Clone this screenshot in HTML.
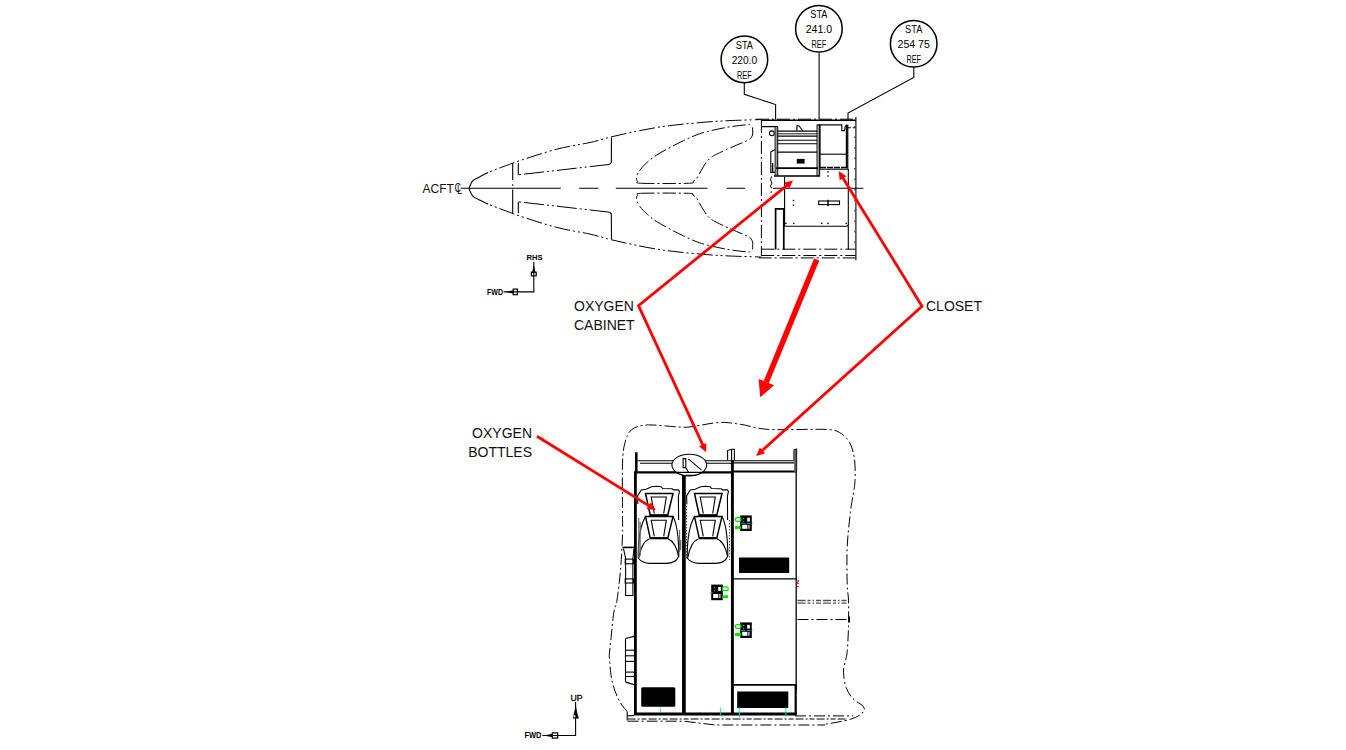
<!DOCTYPE html>
<html lang="en">
<head>
<meta charset="utf-8">
<title>Oxygen cabinet and closet location</title>
<style>
html,body{margin:0;padding:0;background:#fff;}
body{width:1346px;height:750px;overflow:hidden;position:relative;}
svg{position:absolute;left:0;top:0;display:block;}
svg .tn{stroke-width:1.1;}
svg .ph{stroke-width:1;stroke-dasharray:16 3 2 3 2 3;}
svg .cd{stroke-width:1;stroke-dasharray:13 3 2 3;}
svg .cd2{stroke-width:1;stroke-dasharray:11 3 2 3;}
svg .fk{fill:#000;stroke:none;}
svg text{stroke:none;}
svg text{font-family:"Liberation Sans",sans-serif;fill:#111;}
svg .bt{text-anchor:middle;fill:#000;}
svg .ax{font-weight:bold;fill:#000;}
svg .lb text{font-size:14px;fill:#111;}
svg .ac{font-size:12px;}
</style>
</head>
<body>
<svg width="1346" height="750" viewBox="0 0 1346 750" fill="none" stroke="#000" stroke-width="1.1">
<g id="topview">
<path d="M488.2 204.3C486.9 203.7 483 201.8 480.7 200.6C478.4 199.4 475.6 198 474.1 197.1C472.7 196.2 472.7 196 472 195C471.3 194 470.6 192.3 470.1 191.2C469.6 190.1 469.2 189.3 469.2 188.4C469.2 187.5 469.6 186.7 470.1 185.6C470.6 184.5 471.3 182.8 472 181.8C472.7 180.8 472.7 180.6 474.1 179.7C475.6 178.8 478.4 177.4 480.7 176.2C483 175 486.9 173.1 488.2 172.5" class="tn"/>
<path d="M488.2 172.5C490.1 171.7 495.9 169.4 499.9 167.9C503.9 166.4 509.1 164.5 512.3 163.3C515.5 162.1 511.8 163.2 519.2 160.8C526.6 158.5 544.9 152.2 556.7 149.2C568.5 146.1 581 144.5 590 142.5C599 140.5 603.6 138.8 610.8 137C618 135.2 625.4 133.6 633 132C640.6 130.4 648.9 128.8 656.7 127.5C664.5 126.2 671.7 125.4 680 124.5C688.3 123.6 698.4 122.7 706.7 122C715 121.3 721.7 121 730 120.6C738.3 120.2 751.5 119.9 756.7 119.7C762 119.5 760.7 119.6 761.5 119.6" class="ph" stroke-dashoffset="17"/>
<path d="M488.2 204.1C490.1 204.9 495.9 207.2 499.9 208.7C503.9 210.2 509.1 212.1 512.3 213.3C515.5 214.5 511.8 213.5 519.2 215.8C526.6 218.2 544.9 224.4 556.7 227.4C568.5 230.5 581 232.1 590 234.1C599 236.1 603.6 237.9 610.8 239.6C618 241.4 625.4 243 633 244.6C640.6 246.2 648.9 247.9 656.7 249.1C664.5 250.4 671.7 251.2 680 252.1C688.3 253 698.4 254 706.7 254.6C715 255.3 721.7 255.6 730 256C738.3 256.4 751.5 256.7 756.7 256.9C762 257.1 760.7 257 761.5 257" class="ph" stroke-dashoffset="17"/>
<path d="M512.7 163.3V180M512.7 184.2V185.8M512.7 189.5V213.5" class="tn"/>
<path d="M611.5 137.5L611.3 162.6L609.5 164.4" class="tn"/>
<path d="M609.5 164.4L518.3 174.8" stroke-width="1" stroke-dasharray="20 3 2 3 2 3"/>
<path d="M518.3 174.8L518.3 163.3" class="tn"/>
<path d="M611.5 239.1L611.3 214L609.5 212.2" class="tn"/>
<path d="M609.5 212.2L518.3 201.8" stroke-width="1" stroke-dasharray="20 3 2 3 2 3"/>
<path d="M518.3 201.8L518.3 213.3" class="tn"/>
<path d="M641.7 183.3C650.2 183.6 679.8 183.6 688.3 183.3C696.8 183 691.6 182.3 693 181.5C694.4 180.7 695.3 180.2 696.7 178.3C698.1 176.4 699.8 172.8 701.5 170C703.2 167.2 705.1 163.8 706.7 161.7C708.3 159.6 709.3 158.8 711 157.5C712.7 156.2 713.4 155.9 716.7 154.2C720 152.5 726 149.7 731 147.5C736 145.3 743.5 142.3 746.7 140.8C750 139.3 749.5 139.5 750.5 138.5C751.5 137.5 752.1 136.2 752.5 135C752.9 133.8 752.7 132.3 752.7 131C752.7 129.7 752.7 128.3 752.3 127.3C751.9 126.3 751.4 125.6 750.5 125.2C749.6 124.8 750.8 124.3 746.7 124.7C742.6 125.1 732.7 126.3 726 127.5C719.3 128.7 711.9 130.4 706.7 131.7C701.5 133 698.9 134 695 135.5C691.1 137 687.5 138.8 683.3 140.8C679.1 142.8 674.4 145.1 670 147.5C665.6 149.9 660.5 152.6 656.7 155C653 157.4 650.3 159.5 647.5 162C644.7 164.5 641.7 167.9 640 170C638.3 172.1 637.9 173.2 637.3 174.5C636.7 175.8 636.5 176.9 636.5 178C636.5 179.1 636.6 180.4 637.5 181.3C638.4 182.2 633.2 183 641.7 183.3Z" class="cd"/>
<path d="M641.7 193.3C650.2 193 679.8 193 688.3 193.3C696.8 193.6 691.6 194.3 693 195.1C694.4 195.9 695.3 196.4 696.7 198.3C698.1 200.2 699.8 203.8 701.5 206.6C703.2 209.4 705.1 212.8 706.7 214.9C708.3 217 709.3 217.9 711 219.1C712.7 220.4 713.4 220.7 716.7 222.4C720 224.1 726 226.9 731 229.1C736 231.3 743.5 234.3 746.7 235.8C750 237.3 749.5 237.1 750.5 238.1C751.5 239.1 752.1 240.4 752.5 241.6C752.9 242.9 752.7 244.3 752.7 245.6C752.7 246.9 752.7 248.3 752.3 249.3C751.9 250.3 751.4 251 750.5 251.4C749.6 251.8 750.8 252.3 746.7 251.9C742.6 251.5 732.7 250.3 726 249.1C719.3 247.9 711.9 246.2 706.7 244.9C701.5 243.6 698.9 242.6 695 241.1C691.1 239.6 687.5 237.8 683.3 235.8C679.1 233.8 674.4 231.5 670 229.1C665.6 226.7 660.5 224 656.7 221.6C653 219.2 650.3 217.1 647.5 214.6C644.7 212.1 641.7 208.7 640 206.6C638.3 204.5 637.9 203.4 637.3 202.1C636.7 200.8 636.5 199.7 636.5 198.6C636.5 197.5 636.6 196.2 637.5 195.3C638.4 194.4 633.2 193.6 641.7 193.3Z" class="cd"/>
<path d="M460.8 188.3H560.8M579.2 188.3H598.3M615.8 188.3H707.5M726.7 188.3H745M773 188.3H863.4" class="tn"/>
<path d="M761 120.3L856 120.3" stroke-width="1.6"/>
<path d="M756 119.2L856 119.2" class="cd"/>
<path d="M761.4 120L761.4 256" class="cd"/>
<path d="M855.9 117L855.9 260.2" class="tn"/>
<path d="M854.8 126L854.8 250" stroke-width="0.8" stroke-dasharray="1.5 9"/>
<path d="M847.8 125L847.8 168.9" class="tn"/>
<path d="M762 126.6L777.6 126.6" stroke-width="1.3"/>
<path d="M847.8 127.8L855.6 127.8" stroke-dasharray="3 2"/>
<path d="M775.2 126.6V175.5M777.7 126.6V176" class="tn"/>
<path d="M776.4 127L776.4 175.5" stroke="#999" stroke-width="1.4"/>
<path d="M817.1 124.6V176.6M819.6 124.6V176.6" class="tn"/>
<path d="M818.4 125L818.4 176" stroke="#999" stroke-width="1.4"/>
<path d="M817.1 124.9L842 124.9" stroke-width="1.2"/>
<path d="M777.6 131.2L817.1 131.2" stroke-width="1.3"/>
<path d="M777.6 133.8L817.1 133.8" stroke-width="0.9"/>
<path d="M777.6 136.1L817.1 136.1" stroke-width="1.3"/>
<path d="M777.6 140.3L817.1 140.3" stroke-width="1.1"/>
<path d="M777.6 143.8L817.1 143.8" stroke-width="1.1"/>
<path d="M777.6 152.2L817.1 152.2" stroke-width="1.3"/>
<path d="M776 168.1L818 168.1" stroke-width="1.8"/>
<path d="M774 176L819.6 176" stroke-width="1.7"/>
<rect x="796.8" y="158.9" width="7.8" height="4.7" class="fk"/>
<circle cx="771.8" cy="133.3" r="2.4" class="tn"/>
<path d="M775 149.5L770.8 152V172.4H775" class="tn"/>
<path d="M772.6 163L772.6 172" stroke-width="1.4"/>
<path d="M796.9 130.7V125.7H799L802.6 130.7" class="tn"/>
<path d="M841.8 124.6V130.6H844.4L845.5 125.5M820 124.6V167" class="tn"/>
<path d="M846.7 124.5L846.7 168" stroke-width="1.8"/>
<path d="M820 154.2L846 154.2" class="tn"/>
<path d="M820 167.5L847 167.5" stroke-width="1.7" stroke-dasharray="6 1"/>
<path d="M819.5 169.2L848.3 169.2" class="tn"/>
<path d="M848.3 168.9L848.3 249.4" class="tn"/>
<rect x="827.3" y="171.2" width="1.4" height="1.4" class="fk"/>
<rect x="827.3" y="175.3" width="1.4" height="1.4" class="fk"/>
<rect x="792.8" y="199.8" width="1.4" height="1.4" class="fk"/>
<rect x="792.8" y="204.5" width="1.4" height="1.4" class="fk"/>
<rect x="785.2" y="222.7" width="1.4" height="1.4" class="fk"/>
<rect x="793" y="222.7" width="1.4" height="1.4" class="fk"/>
<rect x="821.1" y="222.7" width="1.4" height="1.4" class="fk"/>
<rect x="827.3" y="222.7" width="1.4" height="1.4" class="fk"/>
<rect x="845.5" y="222.7" width="1.4" height="1.4" class="fk"/>
<path d="M784.6 177V226.2H847L848.3 225" class="tn"/>
<rect x="818.7" y="201" width="20.8" height="3.6" class="tn"/>
<path d="M828 199.8L828 206.3" stroke-width="1.4"/>
<path d="M775.6 249.4V208.8H783.8V249.4" stroke-width="1.7"/>
<path d="M771.5 176.5L770.5 180L772 183L770.5 186L772 189L771 193" class="cd"/>
<path d="M761.3 249.2L855.5 249.2" class="cd"/>
<path d="M761.3 255.5L855.5 255.5" class="cd"/>
<path d="M758.7 257.9L855.5 257.9" class="cd"/>
</g>
<g id="balloons">
<circle cx="744.4" cy="59.4" r="23.3" stroke-width="1.5"/>
<text x="744.4" y="48.5" class="bt" font-size="10" textLength="17.2" lengthAdjust="spacingAndGlyphs">STA</text>
<text x="744.4" y="63.6" class="bt" font-size="11" textLength="25.4" lengthAdjust="spacingAndGlyphs">220.0</text>
<text x="744.4" y="78.5" class="bt" font-size="10" textLength="14.6" lengthAdjust="spacingAndGlyphs">REF</text>
<circle cx="818.9" cy="28.8" r="23.3" stroke-width="1.5"/>
<text x="818.9" y="17.9" class="bt" font-size="10" textLength="17.2" lengthAdjust="spacingAndGlyphs">STA</text>
<text x="818.9" y="33" class="bt" font-size="11" textLength="26.5" lengthAdjust="spacingAndGlyphs">241.0</text>
<text x="818.9" y="47.9" class="bt" font-size="10" textLength="14.6" lengthAdjust="spacingAndGlyphs">REF</text>
<circle cx="913.7" cy="43.7" r="23.3" stroke-width="1.5"/>
<text x="913.7" y="32.8" class="bt" font-size="10" textLength="17.2" lengthAdjust="spacingAndGlyphs">STA</text>
<text x="913.7" y="47.9" class="bt" font-size="11" textLength="32.4" lengthAdjust="spacingAndGlyphs">254 75</text>
<text x="913.7" y="62.8" class="bt" font-size="10" textLength="14.6" lengthAdjust="spacingAndGlyphs">REF</text>
<path d="M744.3 83V94.3L775.6 104.6V119.5" class="tn"/>
<path d="M819.1 52.5V119.5" class="tn"/>
<path d="M913.8 67V77.5L848 113V119.5" class="tn"/>
</g>
<g id="triads">
<path d="M533.8 261.7V291.9H503.6" class="tn"/>
<path d="M533.8 264.4L535.5 272.4H532.1Z" class="fk"/>
<rect x="531.4" y="272.2" width="4.8" height="3.7" stroke-width="1.2"/>
<path d="M505.6 291.9L513.4 290.2V293.6Z" class="fk"/>
<rect x="513.2" y="289.1" width="4.2" height="5.6" stroke-width="1.2"/>
<text x="526.6" y="259.9" class="ax" font-size="7.8" textLength="16" lengthAdjust="spacingAndGlyphs">RHS</text>
<text x="487" y="294.5" class="ax" font-size="8.2" textLength="16" lengthAdjust="spacingAndGlyphs">FWD</text>
<path d="M575.6 701.9V735.5H542.5" class="tn"/>
<path d="M575.6 704.6L577.6 714.6L578.9 718.4H572.8L573.6 714.6L574.9 709Z" class="fk"/>
<rect x="573.7" y="715.3" width="1.7" height="2" fill="#fff" stroke="none"/>
<path d="M544 735.5L552.4 733.7V737.3Z" class="fk"/>
<rect x="552.3" y="732.9" width="5.4" height="5.2" stroke-width="1.2"/>
<text x="570.5" y="700.5" font-size="9.6" style="fill:#000;stroke:#000;stroke-width:.3px" textLength="12.2" lengthAdjust="spacingAndGlyphs">UP</text>
<text x="524.4" y="738.4" class="ax" font-size="8.4" textLength="17" lengthAdjust="spacingAndGlyphs">FWD</text>
</g>
<g id="lower">
<path d="M627.2 711.8C625.8 709.8 621.3 705 618.8 699.9C616.3 694.8 613.5 687.6 612 681C610.5 674.4 610 664.5 609.6 660C609.2 655.5 609.2 657 609.4 653.9C609.6 650.8 610 648.3 610.7 641.4C611.4 634.5 612.8 619.4 613.8 612.5C614.8 605.6 615.9 607.1 617 600C618.1 592.9 619.6 580.8 620.5 570C621.4 559.2 622.2 544.3 622.5 535C622.8 525.7 622.5 525.9 622.5 514C622.5 502.1 622.1 475.8 622.5 463.9C622.9 452 623.5 448.2 625 442.6C626.5 437 627.8 432.9 631.3 430C634.8 427.1 638.6 425.5 646.3 425C654 424.5 670.4 426.6 677.7 426.9C685 427.2 683.3 427.6 690.2 426.9C697.1 426.2 710.7 422.9 719.1 422.5C727.5 422.1 732.1 423.2 740.4 424.3C748.7 425.4 754.8 428.5 768.7 429.4C782.6 430.2 812 428.9 823.8 429.4C835.6 429.9 835.1 430.2 839.4 432.5C843.7 434.8 847.3 438.4 849.8 442.9C852.3 447.4 853.6 453.3 854.5 459.5C855.4 465.7 855.2 474.8 855 480.3C854.8 485.8 854.3 487.1 853.5 492.5C852.7 497.9 851.4 503.6 850.4 512.6C849.4 521.6 847.7 534.5 847.2 546.4C846.7 558.3 847 575 847.2 584C847.4 593 848.3 593.4 848.5 600.5C848.7 607.6 848.7 617.9 848.5 626.4C848.3 634.9 847.8 645.2 847.2 651.5C846.6 657.8 845.3 660.5 844.7 664C844.1 667.5 843.3 668.4 843.5 672.3C843.7 676.2 844.4 682.9 846 687.3C847.6 691.7 850.1 695.5 852.9 698.6C855.7 701.8 861.3 703.9 863 706.2C864.7 708.5 865.1 710.2 863 712.4C860.9 714.6 856.7 717.3 850.4 719.3C844.1 721.3 829.2 723.5 825 724.3" class="cd2"/>
<path d="M627.2 711.8V720.6" class="tn"/>
<path d="M795 715.9H853" class="cd2"/>
<path d="M627.6 719H846" stroke-width="1.2" stroke-dasharray="8 2 2 2 5 2"/>
<path d="M627.6 721.2H684L715.4 725H825" class="cd2"/>
<path d="M633.9 714L796.8 714" stroke-width="3.2"/>
<path d="M627.3 715.7L634 715.7" class="tn"/>
<path d="M636.3 452.3L636.3 473" stroke-width="2.6"/>
<path d="M635.4 472L635.4 714" stroke-width="2.8"/>
<path d="M637.5 460.7H731M640 463.3H731" class="tn"/>
<path d="M634 472.4L733 472.4" stroke-width="2.2"/>
<path d="M683.9 475L683.9 714" stroke-width="3.7"/>
<path d="M732.4 460L732.4 714" stroke-width="2.9"/>
<path d="M727.6 460.5V450.6L731.6 449.3H734.4V460.5M731.6 449.3V460.5" class="tn"/>
<path d="M733 460.7H794M733 462.9H794" class="tn"/>
<path d="M733 471.6L796.8 471.6" stroke-width="2"/>
<path d="M794 460.6V450L796.6 449V472" class="tn"/>
<path d="M795.3 449.5L795.3 472" stroke-width="2.2" stroke="#555"/>
<path d="M796.2 472L796.2 690" stroke-width="1.3"/>
<path d="M795.7 684L795.7 714" stroke-width="2.2"/>
<path d="M733 578.8L796.5 578.8" stroke-width="1.3"/>
<path d="M733 684.8L796.5 684.8" stroke-width="1.7"/>
<rect x="739" y="557.5" width="50.2" height="15.5" class="fk"/>
<rect x="737.2" y="691.5" width="51.1" height="16.5" class="fk"/>
<rect x="641.2" y="687.3" width="34.1" height="19.5" rx="1.5" class="fk"/>
<ellipse cx="689.3" cy="465.1" rx="17.4" ry="10.9" fill="#fff" stroke-width="1.1"/>
<path d="M683.1 458.6H685.8V467.6H683.1ZM688.3 458.9L701.5 470.2M685.8 467.6L688.5 472.3M675 472.4H703.6" class="tn"/>
<path d="M686 475.3L696 475.3" class="tn"/>
<path d="M637.8 504L637.6 496L641.3 489.9L646.1 489.3L651.5 486.7L656.8 486.3L661.1 486.7L662.7 488.5L672.3 488.8L673.4 489.9L678.2 489.9L679.5 491.5L678.4 496L678.6 520" class="tn"/>
<path d="M645.5 493.5L673 493.5L667.8 515L650.2 515Z" stroke-width="1.5"/>
<path d="M654.3 513.5L651.2 497L666.3 497L663.7 513.5" class="tn"/>
<path d="M645.5 516.6L673 516.6L667.8 538.1L650.2 538.1Z" stroke-width="1.5"/>
<path d="M654.3 536.4L651.2 520.2L666.3 520.2L663.7 536.4" class="tn"/>
<path d="M649.5 515.6L668.5 515.6" stroke-width="2"/>
<path d="M650 538.3L668 538.3" stroke-width="2"/>
<path d="M645.5 516.6C641 524 638.3 536 638.2 556V558C640 561 645 563.4 650 563.4H666C672 563.4 677 561 678.8 556V554C678.6 536 677 524 673 516.6" class="tn"/>
<path d="M649.5 538.8C644 541 640.5 548 638.7 558" class="tn"/>
<path d="M668 538.8C673.5 541 677 548 678.7 557" class="tn"/>
<path d="M686.8 504L686.6 496L690.3 489.9L695.1 489.3L700.5 486.7L705.8 486.3L710.1 486.7L711.7 488.5L721.3 488.8L722.4 489.9L727.2 489.9L728.5 491.5L727.4 496L727.6 520" class="tn"/>
<path d="M694.5 493.5L722 493.5L716.8 515L699.2 515Z" stroke-width="1.5"/>
<path d="M703.3 513.5L700.2 497L715.3 497L712.7 513.5" class="tn"/>
<path d="M694.5 516.6L722 516.6L716.8 538.1L699.2 538.1Z" stroke-width="1.5"/>
<path d="M703.3 536.4L700.2 520.2L715.3 520.2L712.7 536.4" class="tn"/>
<path d="M698.5 515.6L717.5 515.6" stroke-width="2"/>
<path d="M699 538.3L717 538.3" stroke-width="2"/>
<path d="M694.5 516.6C690 524 687.3 536 687.2 556V558C689 561 694 563.4 699 563.4H715C721 563.4 726 561 727.8 556V554C727.6 536 726 524 722 516.6" class="tn"/>
<path d="M698.5 538.8C693 541 689.5 548 687.7 558" class="tn"/>
<path d="M717 538.8C722.5 541 726 548 727.7 557" class="tn"/>
<path d="M638.8 518V558M640.2 522V556" class="tn" stroke="#666"/>
<path d="M679.6 530V552M680.7 540V550" class="tn" stroke="#666"/>
<path d="M686.6 500L686.6 560" stroke-width="1" stroke-dasharray="1.5 1.5" stroke="#444"/>
<path d="M729.6 520L729.6 560" stroke-width="1" stroke-dasharray="1.5 1.5" stroke="#444"/>
<path d="M622.5 547.4L634.2 547.4" stroke-width="1.6"/>
<path d="M623.5 548.5L625.6 558.5V595.5H632.9V558.5L634 548.5" class="tn"/>
<rect x="625.2" y="559.1" width="8.2" height="4.7" class="tn"/>
<rect x="625.2" y="578.9" width="8.2" height="4.1" class="tn"/>
<path d="M634 636.4L626.5 638.2Q625.5 638.5 625.5 639.6V681Q625.5 682 626.5 682.4L634 684.6" class="tn"/>
<path d="M625.5 650.2L634 650.2" class="tn"/>
<path d="M625.5 655.8L634 655.8" class="tn"/>
<path d="M625.5 661.4L634 661.4" class="tn"/>
<path d="M625.5 672.1L634 672.1" class="tn"/>
<path d="M625.5 676.5L634 676.5" class="tn"/>
<rect x="740.2" y="515.4" width="11.6" height="15.6" class="fk"/>
<rect x="747.2" y="517.8" width="2.6" height="3.8" fill="#fff" stroke="none"/>
<rect x="742.8" y="518" width="1.4" height="1.2" fill="#999" stroke="none"/>
<rect x="742.8" y="520.8" width="1.4" height="1.2" fill="#777" stroke="none"/>
<rect x="742.2" y="524.8" width="5" height="4" fill="#fff" stroke="none"/>
<rect x="747.7" y="524.8" width="2" height="4" fill="#aaa" stroke="none"/>
<path d="M741.2 523.4L753.2 523.4" stroke-width="0.8" stroke="#00d0e0" stroke-dasharray="4 1.5"/>
<rect x="735.4" y="517.6" width="5.6" height="3.8" rx="1.7" fill="none" stroke="#00e600" stroke-width="1.3"/>
<rect x="735" y="526" width="5.8" height="3" fill="#00e600" stroke="none"/>
<rect x="711.2" y="584.6" width="11.6" height="15.6" class="fk"/>
<rect x="718.2" y="587" width="2.6" height="3.8" fill="#fff" stroke="none"/>
<rect x="713.8" y="587.2" width="1.4" height="1.2" fill="#999" stroke="none"/>
<rect x="713.8" y="590" width="1.4" height="1.2" fill="#777" stroke="none"/>
<rect x="713.2" y="594" width="5" height="4" fill="#fff" stroke="none"/>
<rect x="718.7" y="594" width="2" height="4" fill="#aaa" stroke="none"/>
<path d="M709.6 592.6L712.6 592.6" stroke-width="0.8" stroke="#00d0e0"/>
<rect x="722.6" y="586.8" width="5.6" height="3.8" rx="1.7" fill="none" stroke="#00e600" stroke-width="1.3"/>
<rect x="722.2" y="595.2" width="5.8" height="3" fill="#00e600" stroke="none"/>
<rect x="740.2" y="622.4" width="11.6" height="15.6" class="fk"/>
<rect x="747.2" y="624.8" width="2.6" height="3.8" fill="#fff" stroke="none"/>
<rect x="742.8" y="625" width="1.4" height="1.2" fill="#999" stroke="none"/>
<rect x="742.8" y="627.8" width="1.4" height="1.2" fill="#777" stroke="none"/>
<rect x="742.2" y="631.8" width="5" height="4" fill="#fff" stroke="none"/>
<rect x="747.7" y="631.8" width="2" height="4" fill="#aaa" stroke="none"/>
<path d="M741.2 630.4L753.2 630.4" stroke-width="0.8" stroke="#00d0e0" stroke-dasharray="4 1.5"/>
<rect x="735.4" y="624.6" width="5.6" height="3.8" rx="1.7" fill="none" stroke="#00e600" stroke-width="1.3"/>
<rect x="735" y="633" width="5.8" height="3" fill="#00e600" stroke="none"/>
<path d="M660.2 707.4L660.2 712" stroke="#00e0f0" stroke-width="0.9"/>
<path d="M720.4 707.4L720.4 715" stroke="#00e0f0" stroke-width="0.9"/>
<path d="M739.3 707.4L739.3 717.4" stroke="#00e0f0" stroke-width="0.9"/>
<path d="M785.8 707.4L785.8 717.4" stroke="#00e0f0" stroke-width="0.9"/>
<path d="M720.6 713.5L721.8 716.5M785.8 712V716" stroke="#00c800" stroke-width="0.9"/>
<path d="M797.5 600.5H848.5M797.5 603.2H848.5" stroke="#555" stroke-width="1.3" stroke-dasharray="8 2 3 2 1.5 2 5 2"/>
<path d="M797.5 619.5H848.5" class="cd2"/>
<path d="M849.5 616.4L849.5 622.6" class="tn"/>
<path d="M796 581.3L799 580.6L796.6 583.6H799M796.6 586.6H798.8" stroke="#f00" stroke-width="0.9"/>
</g>
<g id="arrows" stroke="#f00" fill="#f00">
<path d="M793.1 180.4L789.1 188.8L784.1 182.6Z" stroke="none"/>
<path d="M706.2 452.3L699 446.3L706.3 443Z" stroke="none"/>
<path d="M787.3 185.1L638.5 305.6L703.1 445.6" stroke-width="2.8" fill="none" stroke-linejoin="miter"/>
<path d="M838.7 171.1L846.5 176.2L839.7 180.3Z" stroke="none"/>
<path d="M756.2 456L759.8 447.4L765.1 453.3Z" stroke="none"/>
<path d="M842.6 177.4L922 306.2L761.7 451" stroke-width="2.8" fill="none" stroke-linejoin="miter"/>
<path d="M655.8 510L646.6 509L650.8 502.2Z" stroke="none"/>
<path d="M537 436.3L649.5 506.1" stroke-width="2.8" fill="none"/>
<path d="M816.7 259.5L766.3 382" stroke-width="5.6" fill="none"/>
<path d="M758.6 378.9L774 385.2L760.2 397.2Z" stroke="none"/>
</g>
<g id="labels" class="lb">
<text x="574" y="311.1">OXYGEN</text>
<text x="574" y="330.2">CABINET</text>
<text x="926" y="311.1">CLOSET</text>
<text x="532" y="438.2" text-anchor="end">OXYGEN</text>
<text x="532" y="457" text-anchor="end">BOTTLES</text>
</g>
<text x="422.6" y="192.9" class="ac">ACFT</text>
<text x="454.4" y="191.5" class="ac" font-size="12" textLength="6.6" lengthAdjust="spacingAndGlyphs">C</text>
<text x="456.9" y="194.4" class="ac" font-size="9.4" textLength="5" lengthAdjust="spacingAndGlyphs">L</text>
</svg>
</body>
</html>
